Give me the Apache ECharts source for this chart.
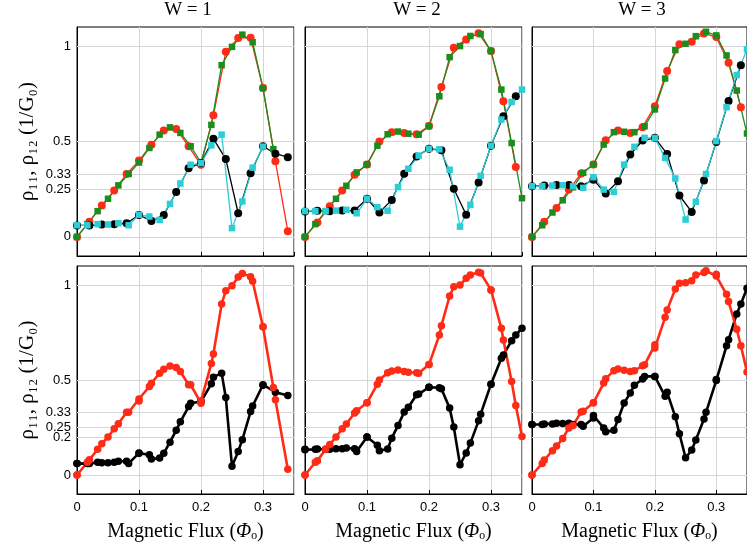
<!DOCTYPE html>
<html><head><meta charset="utf-8">
<script src="https://cdn.jsdelivr.net/npm/echarts@6/dist/echarts.min.js"></script>
<style>html,body{margin:0;padding:0;background:#fff}#c{width:747px;height:548px}</style>
</head><body><div id="c"></div>
<script>
// flux grids (in units of flux quantum)
const fluxA = [0,0.02,0.04,0.06,0.08,0.10,0.12,0.14,0.16,0.18,0.20,0.22,0.24,0.26,0.28,0.30,0.32,0.34];
const fluxB = [0,0.0167,0.0333,0.05,0.0667,0.0833,0.1,0.1167,0.1333,0.15,0.1667,0.1833,0.2,0.2167,0.2333,0.25,0.2667,0.2833,0.3,0.3167,0.3333,0.35];

const panelTitles = ['W = 1','W = 2','W = 3'];
const xTickValues = [0,0.1,0.2,0.3];
const yTicksTop = [0,0.25,0.33,0.5,1];
const yTicksBottom = [0,0.2,0.25,0.33,0.5,1];

// W = 1
const red1   = [0,0.08,0.165,0.243,0.33,0.40,0.483,0.557,0.566,0.475,0.378,0.637,0.97,1.042,1.044,0.78,0.396,0.03];
const green1 = [0,0.067,0.135,0.20,0.27,0.33,0.39,0.466,0.536,0.574,0.545,0.475,0.39,0.587,0.90,0.996,1.06,1.02,0.78,0.46];
const black1 = [0.06,0.06,0.065,0.067,0.072,0.115,0.084,0.115,0.235,0.36,0.387,0.515,0.408,0.124,0.334,0.475,0.436,0.418];
const cyan1  = [0.061,0.061,0.067,0.065,0.072,0.061,0.116,0.107,0.089,0.173,0.28,0.378,0.387,0.48,0.536,0.046,0.186,0.363,0.473];
// W = 2
const red2   = [0,0.075,0.161,0.243,0.326,0.38,0.50,0.548,0.545,0.538,0.581,0.786,0.991,1.035,1.067,0.974,0.711,0.366];
const green2 = [0,0.067,0.135,0.20,0.268,0.338,0.38,0.478,0.538,0.552,0.541,0.536,0.581,0.737,0.942,1.0,1.053,1.063,0.974,0.772,0.492,0.203];
const black2 = [0.133,0.137,0.135,0.138,0.138,0.20,0.128,0.194,0.331,0.422,0.462,0.454,0.252,0.116,0.285,0.478,0.632,0.737];
const cyan2  = [0.135,0.135,0.135,0.138,0.142,0.124,0.20,0.156,0.137,0.261,0.357,0.426,0.462,0.459,0.352,0.054,0.168,0.32,0.478,0.615,0.707,0.772];
// W = 3
const red3   = [0,0.079,0.152,0.248,0.332,0.38,0.507,0.558,0.545,0.575,0.685,0.869,1.009,1.023,1.066,1.047,0.913,0.68];
const green3 = [0,0.061,0.128,0.192,0.26,0.336,0.38,0.484,0.549,0.551,0.549,0.58,0.668,0.83,0.979,1.012,1.052,1.075,1.056,0.951,0.767,0.542];
const black3 = [0.266,0.269,0.272,0.272,0.266,0.30,0.227,0.292,0.432,0.505,0.519,0.435,0.217,0.131,0.295,0.498,0.712,0.90];
const cyan3  = [0.266,0.266,0.269,0.271,0.266,0.257,0.313,0.248,0.236,0.379,0.472,0.519,0.519,0.414,0.306,0.091,0.184,0.33,0.502,0.68,0.848,0.983];

const panels = [
  {red:red1, green:green1, black:black1, cyan:cyan1},
  {red:red2, green:green2, black:black2, cyan:cyan2},
  {red:red3, green:green3, black:black3, cyan:cyan3}
];

const C_RED = '#ff2b17', C_GREEN = '#1c8c1c', C_BLACK = '#000000', C_CYAN = '#2ccdd5', C_GRID = '#d6d6d6';

function pairs(xs, ys){ return ys.map((y,i)=>[xs[i], y]); }
function merged(xa, ya, xb, yb){ return pairs(xa,ya).concat(pairs(xb,yb)).sort((p,q)=>p[0]-q[0]); }

const lefts = [77, 305, 532], W = 217;
const rows = [{top:27, height:229}, {top:266, height:228}];
const labelFont = {color:'#000', fontFamily:'Liberation Sans', fontSize:13};

const grid = [], xAxis = [], yAxis = [], series = [];
for (let r=0; r<2; r++){
  for (let c=0; c<3; c++){
    const i = r*3 + c;
    const yt = r===0 ? yTicksTop : yTicksBottom;
    grid.push({left:lefts[c], top:rows[r].top, width:W, height:rows[r].height, show:true, borderColor:'#000', borderWidth:1, containLabel:false});
    xAxis.push({
      gridIndex:i, type:'value', min:0, max:0.35, interval:0.1,
      axisLine:{show:true, onZero:false, lineStyle:{color:'#000', width:1}},
      axisTick:{show:true, inside:true, length:4, lineStyle:{color:'#000'}},
      splitLine:{show:true, lineStyle:{color:C_GRID, width:1}},
      axisLabel:{show:r===1, showMaxLabel:false, margin:7, ...labelFont, formatter:v=>String(Math.round(v*100)/100)},
      name: r===1 ? 'Magnetic Flux ({i|\u03A6}\u2092)' : '',
      nameLocation:'middle', nameGap:28,
      nameTextStyle:{color:'#000', fontFamily:'Liberation Serif', fontSize:20,
        rich:{i:{fontFamily:'Liberation Serif', fontStyle:'italic', fontSize:20, color:'#000'}}}
    });
    yAxis.push({
      gridIndex:i, type:'value', min:-0.1, max:1.1,
      axisLine:{show:true, onZero:false, lineStyle:{color:'#000', width:1}},
      axisTick:{show:true, inside:true, length:4, customValues:yt, lineStyle:{color:'#000'}},
      splitLine:{show:false},
      axisLabel:{show:c===0, customValues:yt, margin:6, ...labelFont, formatter:v=>String(v)},
      name: c===0 ? '\u03C1\u2081\u2081, \u03C1\u2081\u2082 (1/G\u2080)' : '',
      nameLocation:'middle', nameGap:39,
      nameTextStyle:{color:'#000', fontFamily:'Liberation Serif', fontSize:21}
    });
    // horizontal grid lines at the custom tick values (kept beneath the data)
    series.push({
      type:'line', xAxisIndex:i, yAxisIndex:i, data:[[0,-0.2]], showSymbol:false, silent:true, z:1,
      lineStyle:{width:0},
      markLine:{silent:true, z:1, zlevel:0, symbol:['none','none'], label:{show:false}, animation:false,
        lineStyle:{color:C_GRID, type:'solid', width:1}, emphasis:{disabled:true},
        data: yt.map(v=>({yAxis:v}))}
    });
    const p = panels[c];
    if (r===0){
      const thin = (name, xs, ys, color, sym, size) => ({
        type:'line', name, xAxisIndex:i, yAxisIndex:i, data:pairs(xs, ys), z:3,
        symbol:sym, symbolSize:size, showAllSymbol:true, clip:false,
        lineStyle:{color, width:1.3}, itemStyle:{color}, emphasis:{disabled:true}
      });
      series.push(thin('red', fluxA, p.red, C_RED, 'circle', 8));
      series.push(thin('green', fluxB, p.green, C_GREEN, 'rect', 6.5));
      series.push(thin('black', fluxA, p.black, C_BLACK, 'circle', 8));
      series.push(thin('cyan', fluxB, p.cyan, C_CYAN, 'rect', 6.5));
    } else {
      const thick = (name, data, color) => ({
        type:'line', name, xAxisIndex:i, yAxisIndex:i, data, z:3,
        symbol:'circle', symbolSize:7.5, showAllSymbol:true, clip:false,
        lineStyle:{color, width:2.6}, itemStyle:{color}, emphasis:{disabled:true}
      });
      series.push(thick('rho12', merged(fluxA, p.black, fluxB, p.cyan), C_BLACK));
      series.push(thick('rho11', merged(fluxA, p.red, fluxB, p.green), C_RED));
    }
  }
}

const titleCenters = [188, 417, 642];
const graphic = panelTitles.map((t,c)=>({
  type:'text', x:titleCenters[c], y:1,
  style:{text:t, fontFamily:'Liberation Serif', fontSize:19, fill:'#000', align:'center', verticalAlign:'top'}
}));

const chart = echarts.init(document.getElementById('c'));
chart.setOption({animation:false, backgroundColor:'#fff', grid, xAxis, yAxis, series, graphic});
</script></body></html>
